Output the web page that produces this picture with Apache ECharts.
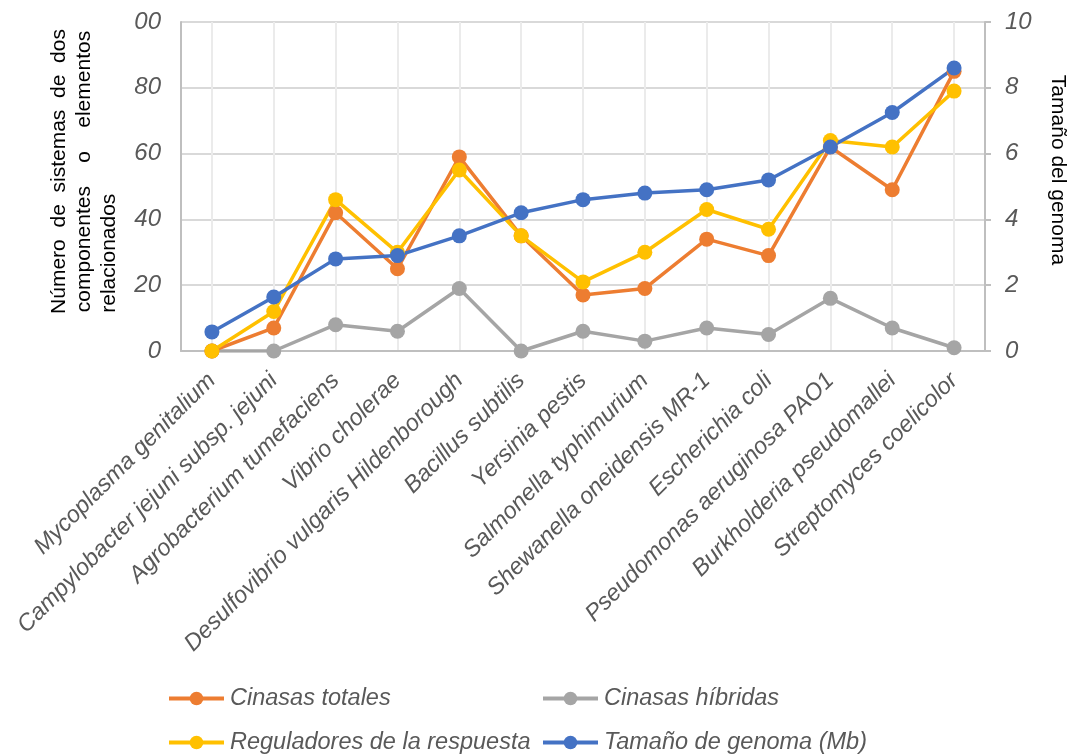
<!DOCTYPE html>
<html>
<head>
<meta charset="utf-8">
<script src="https://cdn.jsdelivr.net/npm/echarts@6/dist/echarts.min.js"></script>
<style>
  html, body { margin: 0; padding: 0; background: #fff; }
  #chart { width: 1070px; height: 754px; }
</style>
</head>
<body>
<div id="chart"></div>
<script>
// categorias (organismos)
const organismos = [
  'Mycoplasma genitalium', 'Campylobacter jejuni subsp. jejuni', 'Agrobacterium tumefaciens',
  'Vibrio cholerae', 'Desulfovibrio vulgaris Hildenborough', 'Bacillus subtilis',
  'Yersinia pestis', 'Salmonella typhimurium', 'Shewanella oneidensis MR-1',
  'Escherichia coli', 'Pseudomonas aeruginosa PAO1', 'Burkholderia pseudomallei',
  'Streptomyces coelicolor'
];

// valores
const cinasasTotales = [0, 7, 42, 25, 59, 35, 17, 19, 34, 29, 62, 49, 85];
const cinasasHibridas = [0, 0, 8, 6, 19, 0, 6, 3, 7, 5, 16, 7, 1];
const reguladores = [0, 12, 46, 30, 55, 35, 21, 30, 43, 37, 64, 62, 79];
const tamanoGenoma = [0.58, 1.64, 2.8, 2.9, 3.5, 4.2, 4.6, 4.8, 4.9, 5.2, 6.2, 7.25, 8.6];

const leftTicks = [0, 20, 40, 60, 80, 100];
const rightTicks = [0, 2, 4, 6, 8, 10];

const font = 'Liberation Sans, Arial, sans-serif';
const gris = '#595959';

const chart = echarts.init(document.getElementById('chart'));

function serie(name, data, color, yIdx) {
  return {
    name: name,
    type: 'line',
    data: data,
    yAxisIndex: yIdx,
    symbol: 'circle',
    symbolSize: 15,
    lineStyle: { width: 3.5, color: color },
    itemStyle: { color: color },
    emphasis: { disabled: true }
  };
}

// una leyenda por entrada, para colocarlas en dos columnas
function leyenda(name, left, top) {
  return {
    data: [name],
    left: left,
    top: top,
    padding: 0,
    itemWidth: 55,
    itemHeight: 17,
    lineStyle: { width: 4 },
    textStyle: { fontSize: 23.5, fontStyle: 'italic', color: gris, fontFamily: font, padding: [0, 0, 0, 1] }
  };
}

// nombre del eje izquierdo (justificado con espacios)
const nombreIzq = 'Número  de  sistemas  de  dos\n' +
  'componentes    o    elementos\n' +
  'relacionados' + ' '.repeat(28);

chart.setOption({
  animation: false,
  textStyle: { fontFamily: font },
  grid: { left: 181, right: 85, top: 22, bottom: 403, containLabel: false, outerBoundsMode: 'none' },
  legend: [
    leyenda('Cinasas totales', 167, 687),
    leyenda('Cinasas híbridas', 541, 687),
    leyenda('Reguladores de la respuesta', 167, 731),
    leyenda('Tamaño de genoma (Mb)', 541, 731)
  ],
  xAxis: {
    type: 'category',
    data: organismos,
    boundaryGap: true,
    axisLine: { show: true, lineStyle: { color: '#bfbfbf', width: 2 } },
    axisTick: { show: false },
    splitLine: { show: true, alignWithLabel: true, lineStyle: { color: '#ebebeb', width: 2 } },
    axisLabel: {
      rotate: 45,
      margin: 26,
      interval: 0,
      fontSize: 23.5,
      fontStyle: 'italic',
      color: gris,
      fontFamily: font
    }
  },
  yAxis: [
    {
      type: 'value',
      min: leftTicks[0],
      max: leftTicks[leftTicks.length - 1],
      interval: 20,
      position: 'left',
      name: nombreIzq,
      nameLocation: 'middle',
      nameGap: 59,
      nameTextStyle: {
        fontSize: 21, color: '#000', fontFamily: font, lineHeight: 25, align: 'center',
        padding: [0, 0, 0, 30]
      },
      axisLine: { show: true, lineStyle: { color: '#bfbfbf', width: 2 } },
      axisTick: { show: false },
      splitLine: { show: true, lineStyle: { color: '#d9d9d9', width: 2 } },
      axisLabel: {
        margin: 20,
        fontSize: 24,
        fontStyle: 'italic',
        color: gris,
        fontFamily: font,
        formatter: function (v) { return v === 100 ? '00' : String(v); }
      }
    },
    {
      type: 'value',
      min: rightTicks[0],
      max: rightTicks[rightTicks.length - 1],
      interval: 2,
      position: 'right',
      name: 'Tamaño del genoma',
      nameLocation: 'middle',
      nameRotate: -90,
      nameGap: 62,
      nameTextStyle: { fontSize: 21, color: '#000', fontFamily: font, padding: [0, 33, 0, 0] },
      axisLine: { show: true, lineStyle: { color: '#bfbfbf', width: 2 } },
      axisTick: { show: true, length: 6, lineStyle: { color: '#bfbfbf', width: 2 } },
      splitLine: { show: false },
      axisLabel: {
        margin: 20,
        fontSize: 24,
        fontStyle: 'italic',
        color: gris,
        fontFamily: font
      }
    }
  ],
  series: [
    serie('Cinasas híbridas', cinasasHibridas, '#a5a5a5', 0),
    serie('Cinasas totales', cinasasTotales, '#ed7d31', 0),
    serie('Reguladores de la respuesta', reguladores, '#ffc000', 0),
    serie('Tamaño de genoma (Mb)', tamanoGenoma, '#4472c4', 1)
  ]
});
</script>
</body>
</html>
